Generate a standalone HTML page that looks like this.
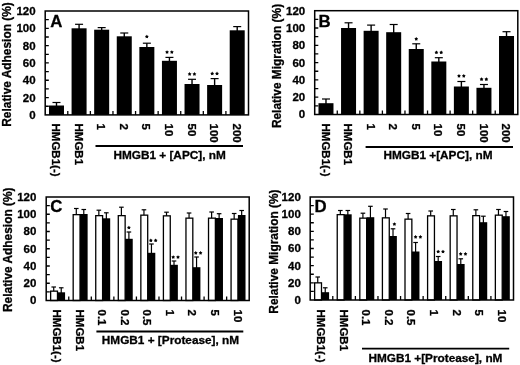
<!DOCTYPE html><html><head><meta charset="utf-8"><style>html,body{margin:0;padding:0;background:#fff;}svg{display:block;filter:grayscale(1);font-family:"Liberation Sans", sans-serif;font-weight:bold;}text{stroke:#000;stroke-width:0.3px;}</style></head><body>
<svg width="520" height="365" viewBox="0 0 520 365">
<rect width="520" height="365" fill="#fff"/>
<path d="M56.49 106.5V102.5" stroke="#000" stroke-width="1.4"/>
<path d="M52.49 102.5h8" stroke="#000" stroke-width="1.2"/>
<path d="M79.08 29.3V24.3" stroke="#000" stroke-width="1.4"/>
<path d="M75.08 24.3h8" stroke="#000" stroke-width="1.2"/>
<path d="M101.67 30.7V27.6" stroke="#000" stroke-width="1.4"/>
<path d="M97.67 27.6h8" stroke="#000" stroke-width="1.2"/>
<path d="M124.26 37.3V33" stroke="#000" stroke-width="1.4"/>
<path d="M120.26 33h8" stroke="#000" stroke-width="1.2"/>
<path d="M146.85 48V43.2" stroke="#000" stroke-width="1.4"/>
<path d="M142.85 43.2h8" stroke="#000" stroke-width="1.2"/>
<path d="M169.44 61.8V57.4" stroke="#000" stroke-width="1.4"/>
<path d="M165.44 57.4h8" stroke="#000" stroke-width="1.2"/>
<path d="M192.03 85V79.3" stroke="#000" stroke-width="1.4"/>
<path d="M188.03 79.3h8" stroke="#000" stroke-width="1.2"/>
<path d="M214.62 86V78.6" stroke="#000" stroke-width="1.4"/>
<path d="M210.62 78.6h8" stroke="#000" stroke-width="1.2"/>
<path d="M237.21 31.3V26.6" stroke="#000" stroke-width="1.4"/>
<path d="M233.21 26.6h8" stroke="#000" stroke-width="1.2"/>
<rect x="48.99" y="105.5" width="15" height="9.4" fill="#000"/>
<rect x="71.58" y="28.3" width="15" height="86.6" fill="#000"/>
<rect x="94.17" y="29.7" width="15" height="85.2" fill="#000"/>
<rect x="116.76" y="36.3" width="15" height="78.6" fill="#000"/>
<rect x="139.35" y="47" width="15" height="67.9" fill="#000"/>
<rect x="161.94" y="60.8" width="15" height="54.1" fill="#000"/>
<rect x="184.53" y="84" width="15" height="30.9" fill="#000"/>
<rect x="207.12" y="85" width="15" height="29.9" fill="#000"/>
<rect x="229.71" y="30.3" width="15" height="84.6" fill="#000"/>
<polygon points="146.85,34.7 147.53,35.77 148.75,36.08 147.94,37.06 148.03,38.32 146.85,37.85 145.67,38.32 145.76,37.06 144.95,36.08 146.17,35.77" fill="#000"/>
<polygon points="167.04,50.2 167.71,51.27 168.94,51.58 168.13,52.56 168.21,53.82 167.04,53.35 165.86,53.82 165.95,52.56 165.14,51.58 166.36,51.27" fill="#000"/>
<polygon points="171.84,50.2 172.51,51.27 173.74,51.58 172.93,52.56 173.01,53.82 171.84,53.35 170.66,53.82 170.75,52.56 169.94,51.58 171.16,51.27" fill="#000"/>
<polygon points="189.63,72.1 190.3,73.17 191.53,73.48 190.72,74.46 190.8,75.72 189.63,75.25 188.45,75.72 188.53,74.46 187.73,73.48 188.95,73.17" fill="#000"/>
<polygon points="194.43,72.1 195.1,73.17 196.33,73.48 195.52,74.46 195.6,75.72 194.43,75.25 193.25,75.72 193.33,74.46 192.53,73.48 193.75,73.17" fill="#000"/>
<polygon points="212.22,71.6 212.89,72.67 214.12,72.98 213.31,73.96 213.39,75.22 212.22,74.75 211.04,75.22 211.12,73.96 210.31,72.98 211.54,72.67" fill="#000"/>
<polygon points="217.02,71.6 217.69,72.67 218.92,72.98 218.11,73.96 218.19,75.22 217.02,74.75 215.84,75.22 215.92,73.96 215.11,72.98 216.34,72.67" fill="#000"/>
<text transform="translate(52.08 123.5) rotate(90) scale(1.0 1)" font-size="11.5">HMGB1</text>
<text transform="translate(52.08 165.1) rotate(90)" font-size="11.5">(-)</text>
<text transform="translate(74.67 123.5) rotate(90) scale(1.0 1)" font-size="11.5">HMGB1</text>
<text transform="translate(97.26 123.5) rotate(90)" font-size="11.5">1</text>
<text transform="translate(119.84 123.5) rotate(90)" font-size="11.5">2</text>
<text transform="translate(142.43 123.5) rotate(90)" font-size="11.5">5</text>
<text transform="translate(165.02 123.5) rotate(90)" font-size="11.5">10</text>
<text transform="translate(187.61 123.5) rotate(90)" font-size="11.5">50</text>
<text transform="translate(210.2 123.5) rotate(90)" font-size="11.5">100</text>
<text transform="translate(232.79 123.5) rotate(90)" font-size="11.5">200</text>
<rect x="45.2" y="11" width="203.3" height="103.9" fill="none" stroke="#000" stroke-width="1.5"/>
<path d="M45.2 106.24h3.6M45.2 97.58h3.6M45.2 88.93h3.6M45.2 80.27h3.6M45.2 71.61h3.6M45.2 62.95h3.6M45.2 54.29h3.6M45.2 45.63h3.6M45.2 36.98h3.6M45.2 28.32h3.6M45.2 19.66h3.6M67.79 114.9v-4M90.38 114.9v-4M112.97 114.9v-4M135.56 114.9v-4M158.14 114.9v-4M180.73 114.9v-4M203.32 114.9v-4M225.91 114.9v-4" stroke="#000" stroke-width="1.3" fill="none"/>
<text x="35.6" y="118.85" text-anchor="end" font-size="11.5">0</text>
<text x="35.6" y="101.53" text-anchor="end" font-size="11.5">20</text>
<text x="35.6" y="84.22" text-anchor="end" font-size="11.5">40</text>
<text x="35.6" y="66.9" text-anchor="end" font-size="11.5">60</text>
<text x="35.6" y="49.58" text-anchor="end" font-size="11.5">80</text>
<text x="35.6" y="32.27" text-anchor="end" font-size="11.5">100</text>
<text x="35.6" y="14.95" text-anchor="end" font-size="11.5">120</text>
<text transform="translate(11.1 64.5) rotate(-90)" text-anchor="middle" font-size="11.9">Relative Adhesion (%)</text>
<text x="50.2" y="26.8" font-size="16.8">A</text>
<path d="M95.5 146H243" stroke="#000" stroke-width="1.8"/>
<text x="113.4" y="158.8" font-size="11.8">HMGB1 + [APC], nM</text>
<path d="M325.98 104.2V99" stroke="#000" stroke-width="1.4"/>
<path d="M321.98 99h8" stroke="#000" stroke-width="1.2"/>
<path d="M348.55 29V22.8" stroke="#000" stroke-width="1.4"/>
<path d="M344.55 22.8h8" stroke="#000" stroke-width="1.2"/>
<path d="M371.12 31.8V25.1" stroke="#000" stroke-width="1.4"/>
<path d="M367.12 25.1h8" stroke="#000" stroke-width="1.2"/>
<path d="M393.68 33.2V24.5" stroke="#000" stroke-width="1.4"/>
<path d="M389.68 24.5h8" stroke="#000" stroke-width="1.2"/>
<path d="M416.25 50V43.8" stroke="#000" stroke-width="1.4"/>
<path d="M412.25 43.8h8" stroke="#000" stroke-width="1.2"/>
<path d="M438.82 62.5V57.7" stroke="#000" stroke-width="1.4"/>
<path d="M434.82 57.7h8" stroke="#000" stroke-width="1.2"/>
<path d="M461.38 87.5V81.5" stroke="#000" stroke-width="1.4"/>
<path d="M457.38 81.5h8" stroke="#000" stroke-width="1.2"/>
<path d="M483.95 88.8V84.5" stroke="#000" stroke-width="1.4"/>
<path d="M479.95 84.5h8" stroke="#000" stroke-width="1.2"/>
<path d="M506.52 37V31.7" stroke="#000" stroke-width="1.4"/>
<path d="M502.52 31.7h8" stroke="#000" stroke-width="1.2"/>
<rect x="318.48" y="103.2" width="15" height="11.3" fill="#000"/>
<rect x="341.05" y="28" width="15" height="86.5" fill="#000"/>
<rect x="363.62" y="30.8" width="15" height="83.7" fill="#000"/>
<rect x="386.18" y="32.2" width="15" height="82.3" fill="#000"/>
<rect x="408.75" y="49" width="15" height="65.5" fill="#000"/>
<rect x="431.32" y="61.5" width="15" height="53" fill="#000"/>
<rect x="453.88" y="86.5" width="15" height="28" fill="#000"/>
<rect x="476.45" y="87.8" width="15" height="26.7" fill="#000"/>
<rect x="499.02" y="36" width="15" height="78.5" fill="#000"/>
<polygon points="416.25,37 416.93,38.07 418.15,38.38 417.34,39.36 417.43,40.62 416.25,40.15 415.07,40.62 415.16,39.36 414.35,38.38 415.57,38.07" fill="#000"/>
<polygon points="436.42,50.5 437.09,51.57 438.32,51.88 437.51,52.86 437.59,54.12 436.42,53.65 435.24,54.12 435.32,52.86 434.51,51.88 435.74,51.57" fill="#000"/>
<polygon points="441.22,50.5 441.89,51.57 443.12,51.88 442.31,52.86 442.39,54.12 441.22,53.65 440.04,54.12 440.12,52.86 439.31,51.88 440.54,51.57" fill="#000"/>
<polygon points="458.98,74 459.66,75.07 460.89,75.38 460.08,76.36 460.16,77.62 458.98,77.15 457.81,77.62 457.89,76.36 457.08,75.38 458.31,75.07" fill="#000"/>
<polygon points="463.78,74 464.46,75.07 465.69,75.38 464.88,76.36 464.96,77.62 463.78,77.15 462.61,77.62 462.69,76.36 461.88,75.38 463.11,75.07" fill="#000"/>
<polygon points="481.55,77.3 482.23,78.37 483.45,78.68 482.64,79.66 482.73,80.92 481.55,80.45 480.37,80.92 480.46,79.66 479.65,78.68 480.87,78.37" fill="#000"/>
<polygon points="486.35,77.3 487.03,78.37 488.25,78.68 487.44,79.66 487.53,80.92 486.35,80.45 485.17,80.92 485.26,79.66 484.45,78.68 485.67,78.37" fill="#000"/>
<text transform="translate(321.57 123.5) rotate(90) scale(1.0 1)" font-size="11.5">HMGB1</text>
<text transform="translate(321.57 165.1) rotate(90)" font-size="11.5">(-)</text>
<text transform="translate(344.13 123.5) rotate(90) scale(1.0 1)" font-size="11.5">HMGB1</text>
<text transform="translate(366.7 123.5) rotate(90)" font-size="11.5">1</text>
<text transform="translate(389.27 123.5) rotate(90)" font-size="11.5">2</text>
<text transform="translate(411.83 123.5) rotate(90)" font-size="11.5">5</text>
<text transform="translate(434.4 123.5) rotate(90)" font-size="11.5">10</text>
<text transform="translate(456.97 123.5) rotate(90)" font-size="11.5">50</text>
<text transform="translate(479.53 123.5) rotate(90)" font-size="11.5">100</text>
<text transform="translate(502.1 123.5) rotate(90)" font-size="11.5">200</text>
<rect x="314.7" y="10.7" width="203.1" height="103.8" fill="none" stroke="#000" stroke-width="1.5"/>
<path d="M314.7 105.85h3.6M314.7 97.2h3.6M314.7 88.55h3.6M314.7 79.9h3.6M314.7 71.25h3.6M314.7 62.6h3.6M314.7 53.95h3.6M314.7 45.3h3.6M314.7 36.65h3.6M314.7 28h3.6M314.7 19.35h3.6M337.27 114.5v-4M359.83 114.5v-4M382.4 114.5v-4M404.97 114.5v-4M427.53 114.5v-4M450.1 114.5v-4M472.67 114.5v-4M495.23 114.5v-4" stroke="#000" stroke-width="1.3" fill="none"/>
<text x="305.2" y="118.45" text-anchor="end" font-size="11.5">0</text>
<text x="305.2" y="101.15" text-anchor="end" font-size="11.5">20</text>
<text x="305.2" y="83.85" text-anchor="end" font-size="11.5">40</text>
<text x="305.2" y="66.55" text-anchor="end" font-size="11.5">60</text>
<text x="305.2" y="49.25" text-anchor="end" font-size="11.5">80</text>
<text x="305.2" y="31.95" text-anchor="end" font-size="11.5">100</text>
<text x="305.2" y="14.65" text-anchor="end" font-size="11.5">120</text>
<text transform="translate(281.2 66) rotate(-90)" text-anchor="middle" font-size="11.9">Relative Migration (%)</text>
<text x="318.6" y="26.5" font-size="16.8">B</text>
<path d="M365.6 147H513" stroke="#000" stroke-width="1.8"/>
<text x="383.4" y="159.4" font-size="11.8">HMGB1 +[APC], nM</text>
<path d="M53.73 291.5V287" stroke="#000" stroke-width="1.2"/>
<path d="M51.43 287h4.6" stroke="#000" stroke-width="1.2"/>
<path d="M61.23 293.3V287.8" stroke="#000" stroke-width="1.2"/>
<path d="M58.93 287.8h4.6" stroke="#000" stroke-width="1.2"/>
<path d="M76.28 215V208.5" stroke="#000" stroke-width="1.2"/>
<path d="M73.98 208.5h4.6" stroke="#000" stroke-width="1.2"/>
<path d="M83.78 215V209.5" stroke="#000" stroke-width="1.2"/>
<path d="M81.48 209.5h4.6" stroke="#000" stroke-width="1.2"/>
<path d="M98.84 216V210.2" stroke="#000" stroke-width="1.2"/>
<path d="M96.54 210.2h4.6" stroke="#000" stroke-width="1.2"/>
<path d="M106.34 219.3V212.8" stroke="#000" stroke-width="1.2"/>
<path d="M104.04 212.8h4.6" stroke="#000" stroke-width="1.2"/>
<path d="M121.39 216V207.2" stroke="#000" stroke-width="1.2"/>
<path d="M119.09 207.2h4.6" stroke="#000" stroke-width="1.2"/>
<path d="M128.89 239.8V232" stroke="#000" stroke-width="1.2"/>
<path d="M126.59 232h4.6" stroke="#000" stroke-width="1.2"/>
<path d="M143.95 215.5V209.8" stroke="#000" stroke-width="1.2"/>
<path d="M141.65 209.8h4.6" stroke="#000" stroke-width="1.2"/>
<path d="M151.45 253.8V244" stroke="#000" stroke-width="1.2"/>
<path d="M149.15 244h4.6" stroke="#000" stroke-width="1.2"/>
<path d="M166.51 216.2V212.2" stroke="#000" stroke-width="1.2"/>
<path d="M164.21 212.2h4.6" stroke="#000" stroke-width="1.2"/>
<path d="M174.01 265.8V261" stroke="#000" stroke-width="1.2"/>
<path d="M171.71 261h4.6" stroke="#000" stroke-width="1.2"/>
<path d="M189.06 218.5V213" stroke="#000" stroke-width="1.2"/>
<path d="M186.76 213h4.6" stroke="#000" stroke-width="1.2"/>
<path d="M196.56 268.2V257" stroke="#000" stroke-width="1.2"/>
<path d="M194.26 257h4.6" stroke="#000" stroke-width="1.2"/>
<path d="M211.62 218.5V212" stroke="#000" stroke-width="1.2"/>
<path d="M209.32 212h4.6" stroke="#000" stroke-width="1.2"/>
<path d="M219.12 219V213.7" stroke="#000" stroke-width="1.2"/>
<path d="M216.82 213.7h4.6" stroke="#000" stroke-width="1.2"/>
<path d="M234.17 219.5V213.5" stroke="#000" stroke-width="1.2"/>
<path d="M231.87 213.5h4.6" stroke="#000" stroke-width="1.2"/>
<path d="M241.67 216V210.5" stroke="#000" stroke-width="1.2"/>
<path d="M239.37 210.5h4.6" stroke="#000" stroke-width="1.2"/>
<rect x="50.63" y="291.15" width="6.85" height="9.35" fill="#fff" stroke="#000" stroke-width="1.3"/>
<rect x="57.48" y="292.3" width="7.6" height="8.2" fill="#000"/>
<rect x="73.18" y="214.65" width="6.85" height="85.85" fill="#fff" stroke="#000" stroke-width="1.3"/>
<rect x="80.03" y="214" width="7.6" height="86.5" fill="#000"/>
<rect x="95.74" y="215.65" width="6.85" height="84.85" fill="#fff" stroke="#000" stroke-width="1.3"/>
<rect x="102.59" y="218.3" width="7.6" height="82.2" fill="#000"/>
<rect x="118.29" y="215.65" width="6.85" height="84.85" fill="#fff" stroke="#000" stroke-width="1.3"/>
<rect x="125.14" y="238.8" width="7.6" height="61.7" fill="#000"/>
<rect x="140.85" y="215.15" width="6.85" height="85.35" fill="#fff" stroke="#000" stroke-width="1.3"/>
<rect x="147.7" y="252.8" width="7.6" height="47.7" fill="#000"/>
<rect x="163.41" y="215.85" width="6.85" height="84.65" fill="#fff" stroke="#000" stroke-width="1.3"/>
<rect x="170.26" y="264.8" width="7.6" height="35.7" fill="#000"/>
<rect x="185.96" y="218.15" width="6.85" height="82.35" fill="#fff" stroke="#000" stroke-width="1.3"/>
<rect x="192.81" y="267.2" width="7.6" height="33.3" fill="#000"/>
<rect x="208.52" y="218.15" width="6.85" height="82.35" fill="#fff" stroke="#000" stroke-width="1.3"/>
<rect x="215.37" y="218" width="7.6" height="82.5" fill="#000"/>
<rect x="231.07" y="219.15" width="6.85" height="81.35" fill="#fff" stroke="#000" stroke-width="1.3"/>
<rect x="237.92" y="215" width="7.6" height="85.5" fill="#000"/>
<polygon points="128.89,225.7 129.57,226.77 130.8,227.08 129.99,228.06 130.07,229.32 128.89,228.85 127.72,229.32 127.8,228.06 126.99,227.08 128.22,226.77" fill="#000"/>
<polygon points="150.85,238.5 151.53,239.57 152.75,239.88 151.94,240.86 152.03,242.12 150.85,241.65 149.67,242.12 149.76,240.86 148.95,239.88 150.17,239.57" fill="#000"/>
<polygon points="155.65,238.5 156.33,239.57 157.55,239.88 156.74,240.86 156.83,242.12 155.65,241.65 154.47,242.12 154.56,240.86 153.75,239.88 154.97,239.57" fill="#000"/>
<polygon points="173.21,255.2 173.88,256.27 175.11,256.58 174.3,257.56 174.38,258.82 173.21,258.35 172.03,258.82 172.11,257.56 171.3,256.58 172.53,256.27" fill="#000"/>
<polygon points="178.01,255.2 178.68,256.27 179.91,256.58 179.1,257.56 179.18,258.82 178.01,258.35 176.83,258.82 176.91,257.56 176.1,256.58 177.33,256.27" fill="#000"/>
<polygon points="195.76,251 196.44,252.07 197.66,252.38 196.85,253.36 196.94,254.62 195.76,254.15 194.59,254.62 194.67,253.36 193.86,252.38 195.09,252.07" fill="#000"/>
<polygon points="200.56,251 201.24,252.07 202.46,252.38 201.65,253.36 201.74,254.62 200.56,254.15 199.39,254.62 199.47,253.36 198.66,252.38 199.89,252.07" fill="#000"/>
<text transform="translate(53.06 309.5) rotate(90) scale(1.0 1)" font-size="11.5">HMGB1</text>
<text transform="translate(53.06 351.1) rotate(90)" font-size="11.5">(-)</text>
<text transform="translate(75.62 309.5) rotate(90) scale(1.0 1)" font-size="11.5">HMGB1</text>
<text transform="translate(98.17 309.5) rotate(90)" font-size="11.5">0.1</text>
<text transform="translate(120.73 309.5) rotate(90)" font-size="11.5">0.2</text>
<text transform="translate(143.28 309.5) rotate(90)" font-size="11.5">0.5</text>
<text transform="translate(165.84 309.5) rotate(90)" font-size="11.5">1</text>
<text transform="translate(188.39 309.5) rotate(90)" font-size="11.5">2</text>
<text transform="translate(210.95 309.5) rotate(90)" font-size="11.5">5</text>
<text transform="translate(233.51 309.5) rotate(90)" font-size="11.5">10</text>
<rect x="46.2" y="197" width="203" height="103.5" fill="none" stroke="#000" stroke-width="1.5"/>
<path d="M46.2 291.88h3.6M46.2 283.25h3.6M46.2 274.62h3.6M46.2 266h3.6M46.2 257.38h3.6M46.2 248.75h3.6M46.2 240.12h3.6M46.2 231.5h3.6M46.2 222.88h3.6M46.2 214.25h3.6M46.2 205.62h3.6M68.76 300.5v-4M91.31 300.5v-4M113.87 300.5v-4M136.42 300.5v-4M158.98 300.5v-4M181.53 300.5v-4M204.09 300.5v-4M226.64 300.5v-4" stroke="#000" stroke-width="1.3" fill="none"/>
<text x="36.4" y="304.45" text-anchor="end" font-size="11.5">0</text>
<text x="36.4" y="287.2" text-anchor="end" font-size="11.5">20</text>
<text x="36.4" y="269.95" text-anchor="end" font-size="11.5">40</text>
<text x="36.4" y="252.7" text-anchor="end" font-size="11.5">60</text>
<text x="36.4" y="235.45" text-anchor="end" font-size="11.5">80</text>
<text x="36.4" y="218.2" text-anchor="end" font-size="11.5">100</text>
<text x="36.4" y="200.95" text-anchor="end" font-size="11.5">120</text>
<text transform="translate(12.3 249.75) rotate(-90)" text-anchor="middle" font-size="11.9">Relative Adhesion (%)</text>
<text x="50.3" y="211.6" font-size="16.8">C</text>
<path d="M96.4 331.5H243.3" stroke="#000" stroke-width="1.8"/>
<text x="101.8" y="344.4" font-size="11.8">HMGB1 + [Protease], nM</text>
<path d="M317.74 283.2V277" stroke="#000" stroke-width="1.2"/>
<path d="M315.44 277h4.6" stroke="#000" stroke-width="1.2"/>
<path d="M325.24 293.2V287.8" stroke="#000" stroke-width="1.2"/>
<path d="M322.94 287.8h4.6" stroke="#000" stroke-width="1.2"/>
<path d="M340.33 215V210.5" stroke="#000" stroke-width="1.2"/>
<path d="M338.03 210.5h4.6" stroke="#000" stroke-width="1.2"/>
<path d="M347.83 215.3V210.5" stroke="#000" stroke-width="1.2"/>
<path d="M345.53 210.5h4.6" stroke="#000" stroke-width="1.2"/>
<path d="M362.92 218.5V213.2" stroke="#000" stroke-width="1.2"/>
<path d="M360.62 213.2h4.6" stroke="#000" stroke-width="1.2"/>
<path d="M370.42 218.2V206.3" stroke="#000" stroke-width="1.2"/>
<path d="M368.12 206.3h4.6" stroke="#000" stroke-width="1.2"/>
<path d="M385.51 218.2V209" stroke="#000" stroke-width="1.2"/>
<path d="M383.21 209h4.6" stroke="#000" stroke-width="1.2"/>
<path d="M393.01 237V228.8" stroke="#000" stroke-width="1.2"/>
<path d="M390.71 228.8h4.6" stroke="#000" stroke-width="1.2"/>
<path d="M408.1 219.5V213.5" stroke="#000" stroke-width="1.2"/>
<path d="M405.8 213.5h4.6" stroke="#000" stroke-width="1.2"/>
<path d="M415.6 252.5V242.5" stroke="#000" stroke-width="1.2"/>
<path d="M413.3 242.5h4.6" stroke="#000" stroke-width="1.2"/>
<path d="M430.69 216.2V211" stroke="#000" stroke-width="1.2"/>
<path d="M428.39 211h4.6" stroke="#000" stroke-width="1.2"/>
<path d="M438.19 262V256.5" stroke="#000" stroke-width="1.2"/>
<path d="M435.89 256.5h4.6" stroke="#000" stroke-width="1.2"/>
<path d="M453.28 216.2V209.5" stroke="#000" stroke-width="1.2"/>
<path d="M450.98 209.5h4.6" stroke="#000" stroke-width="1.2"/>
<path d="M460.78 265V258.8" stroke="#000" stroke-width="1.2"/>
<path d="M458.48 258.8h4.6" stroke="#000" stroke-width="1.2"/>
<path d="M475.87 216V209.8" stroke="#000" stroke-width="1.2"/>
<path d="M473.57 209.8h4.6" stroke="#000" stroke-width="1.2"/>
<path d="M483.37 223.2V216.2" stroke="#000" stroke-width="1.2"/>
<path d="M481.07 216.2h4.6" stroke="#000" stroke-width="1.2"/>
<path d="M498.46 215.5V209.5" stroke="#000" stroke-width="1.2"/>
<path d="M496.16 209.5h4.6" stroke="#000" stroke-width="1.2"/>
<path d="M505.96 217.2V211.5" stroke="#000" stroke-width="1.2"/>
<path d="M503.66 211.5h4.6" stroke="#000" stroke-width="1.2"/>
<rect x="314.64" y="282.85" width="6.85" height="17.15" fill="#fff" stroke="#000" stroke-width="1.3"/>
<rect x="321.49" y="292.2" width="7.6" height="7.8" fill="#000"/>
<rect x="337.23" y="214.65" width="6.85" height="85.35" fill="#fff" stroke="#000" stroke-width="1.3"/>
<rect x="344.08" y="214.3" width="7.6" height="85.7" fill="#000"/>
<rect x="359.82" y="218.15" width="6.85" height="81.85" fill="#fff" stroke="#000" stroke-width="1.3"/>
<rect x="366.67" y="217.2" width="7.6" height="82.8" fill="#000"/>
<rect x="382.41" y="217.85" width="6.85" height="82.15" fill="#fff" stroke="#000" stroke-width="1.3"/>
<rect x="389.26" y="236" width="7.6" height="64" fill="#000"/>
<rect x="405" y="219.15" width="6.85" height="80.85" fill="#fff" stroke="#000" stroke-width="1.3"/>
<rect x="411.85" y="251.5" width="7.6" height="48.5" fill="#000"/>
<rect x="427.59" y="215.85" width="6.85" height="84.15" fill="#fff" stroke="#000" stroke-width="1.3"/>
<rect x="434.44" y="261" width="7.6" height="39" fill="#000"/>
<rect x="450.18" y="215.85" width="6.85" height="84.15" fill="#fff" stroke="#000" stroke-width="1.3"/>
<rect x="457.03" y="264" width="7.6" height="36" fill="#000"/>
<rect x="472.77" y="215.65" width="6.85" height="84.35" fill="#fff" stroke="#000" stroke-width="1.3"/>
<rect x="479.62" y="222.2" width="7.6" height="77.8" fill="#000"/>
<rect x="495.36" y="215.15" width="6.85" height="84.85" fill="#fff" stroke="#000" stroke-width="1.3"/>
<rect x="502.21" y="216.2" width="7.6" height="83.8" fill="#000"/>
<polygon points="394.41,222.2 395.09,223.27 396.31,223.58 395.5,224.56 395.59,225.82 394.41,225.35 393.24,225.82 393.32,224.56 392.51,223.58 393.74,223.27" fill="#000"/>
<polygon points="415.6,235 416.28,236.07 417.5,236.38 416.69,237.36 416.78,238.62 415.6,238.15 414.42,238.62 414.51,237.36 413.7,236.38 414.92,236.07" fill="#000"/>
<polygon points="420.4,235 421.08,236.07 422.3,236.38 421.49,237.36 421.58,238.62 420.4,238.15 419.22,238.62 419.31,237.36 418.5,236.38 419.72,236.07" fill="#000"/>
<polygon points="438.19,249.7 438.86,250.77 440.09,251.08 439.28,252.06 439.36,253.32 438.19,252.85 437.01,253.32 437.1,252.06 436.29,251.08 437.51,250.77" fill="#000"/>
<polygon points="442.99,249.7 443.66,250.77 444.89,251.08 444.08,252.06 444.16,253.32 442.99,252.85 441.81,253.32 441.9,252.06 441.09,251.08 442.31,250.77" fill="#000"/>
<polygon points="460.68,252 461.35,253.07 462.58,253.38 461.77,254.36 461.85,255.62 460.68,255.15 459.5,255.62 459.58,254.36 458.78,253.38 460,253.07" fill="#000"/>
<polygon points="465.48,252 466.15,253.07 467.38,253.38 466.57,254.36 466.65,255.62 465.48,255.15 464.3,255.62 464.38,254.36 463.58,253.38 464.8,253.07" fill="#000"/>
<text transform="translate(317.08 309.5) rotate(90) scale(1.0 1)" font-size="11.5">HMGB1</text>
<text transform="translate(317.08 351.1) rotate(90)" font-size="11.5">(-)</text>
<text transform="translate(339.67 309.5) rotate(90) scale(1.0 1)" font-size="11.5">HMGB1</text>
<text transform="translate(362.26 309.5) rotate(90)" font-size="11.5">0.1</text>
<text transform="translate(384.84 309.5) rotate(90)" font-size="11.5">0.2</text>
<text transform="translate(407.43 309.5) rotate(90)" font-size="11.5">0.5</text>
<text transform="translate(430.02 309.5) rotate(90)" font-size="11.5">1</text>
<text transform="translate(452.61 309.5) rotate(90)" font-size="11.5">2</text>
<text transform="translate(475.2 309.5) rotate(90)" font-size="11.5">5</text>
<text transform="translate(497.79 309.5) rotate(90)" font-size="11.5">10</text>
<rect x="310.2" y="197" width="203.3" height="103" fill="none" stroke="#000" stroke-width="1.5"/>
<path d="M310.2 291.42h3.6M310.2 282.83h3.6M310.2 274.25h3.6M310.2 265.67h3.6M310.2 257.08h3.6M310.2 248.5h3.6M310.2 239.92h3.6M310.2 231.33h3.6M310.2 222.75h3.6M310.2 214.17h3.6M310.2 205.58h3.6M332.79 300v-4M355.38 300v-4M377.97 300v-4M400.56 300v-4M423.14 300v-4M445.73 300v-4M468.32 300v-4M490.91 300v-4" stroke="#000" stroke-width="1.3" fill="none"/>
<text x="300.8" y="303.95" text-anchor="end" font-size="11.5">0</text>
<text x="300.8" y="286.78" text-anchor="end" font-size="11.5">20</text>
<text x="300.8" y="269.62" text-anchor="end" font-size="11.5">40</text>
<text x="300.8" y="252.45" text-anchor="end" font-size="11.5">60</text>
<text x="300.8" y="235.28" text-anchor="end" font-size="11.5">80</text>
<text x="300.8" y="218.12" text-anchor="end" font-size="11.5">100</text>
<text x="300.8" y="200.95" text-anchor="end" font-size="11.5">120</text>
<text transform="translate(277.8 251.6) rotate(-90)" text-anchor="middle" font-size="11.9">Relative Migration (%)</text>
<text x="314.6" y="211.5" font-size="16.8">D</text>
<path d="M362 348.6H509.2" stroke="#000" stroke-width="1.8"/>
<text x="368.4" y="362" font-size="11.8">HMGB1 +[Protease], nM</text>
</svg></body></html>
